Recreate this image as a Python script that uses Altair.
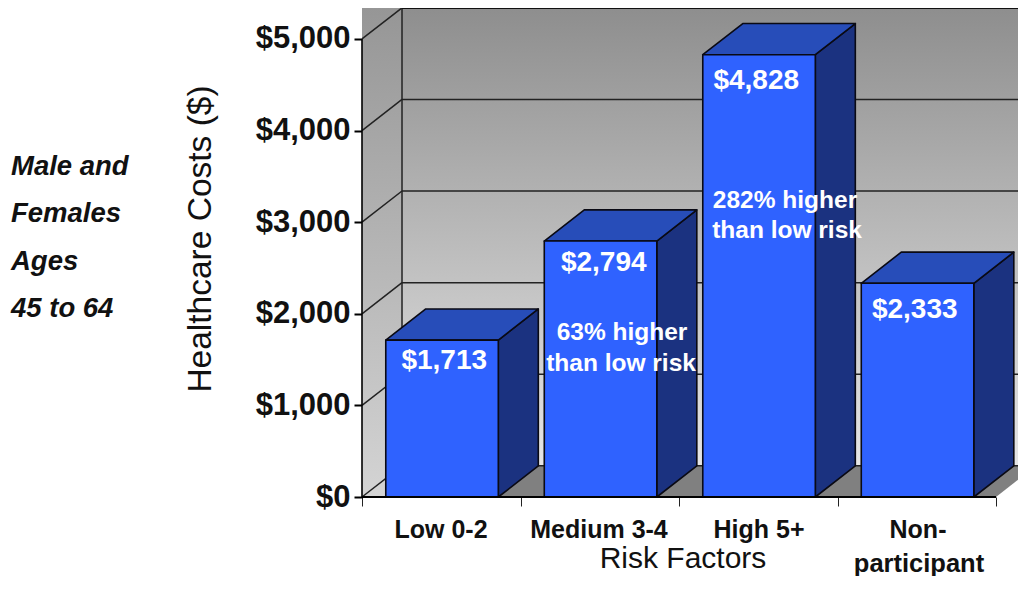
import altair as alt
import pandas as pd

# ---- data ----
categories = ["Low 0-2", "Medium 3-4", "High 5+", "Non-\nparticipant"]
costs = [1713, 2794, 4828, 2333]
cost_labels = ["$1,713", "$2,794", "$4,828", "$2,333"]
y_ticks = [0, 1000, 2000, 3000, 4000, 5000]
x_ticks = [0, 1, 2, 3, 4]

# ---- projection constants (data units) ----
BAR_W = 0.71      # category units
DX = 0.2524       # depth, category units
DY = 340.0        # depth, dollars
W, H = 656, 489
X_MAX = W / 158.5
Y_MAX = 5338.0
FONT = "Liberation Sans"

xs = alt.Scale(domain=[0, X_MAX], nice=False, zero=False)
ys = alt.Scale(domain=[0, Y_MAX], nice=False, zero=False)
x_axis = alt.Axis(values=x_ticks, labels=False, title=None, domain=False, grid=False,
                  tickColor="#222222", tickWidth=1, tickSize=9)
y_axis = alt.Axis(values=y_ticks, format="$,.0f", title=None, domain=False, grid=False,
                  tickColor="black", tickWidth=2, tickSize=8, labelPadding=4,
                  labelFont=FONT, labelFontSize=31, labelFontWeight="bold", labelColor="#111111")
X = lambda f: alt.X(f, type="quantitative", scale=xs, axis=x_axis)
Y = lambda f: alt.Y(f, type="quantitative", scale=ys, axis=y_axis)
X2 = lambda f: alt.X2(f)
Y2 = lambda f: alt.Y2(f)


def vgrad(c0, c1):
    return alt.Gradient(
        gradient="linear", x1=0, x2=0, y1=0, y2=1,
        stops=[alt.GradientStop(offset=0, color=c0),
               alt.GradientStop(offset=1, color=c1)],
    )


grid = pd.DataFrame({"v": y_ticks})
grid["top"] = grid["v"] + DY
grid["x0"] = 0.0
grid["xb"] = DX
grid["xe"] = X_MAX

layers = []

# walls
back = pd.DataFrame({"x": [DX], "x2": [X_MAX], "y": [DY], "y2": [Y_MAX]})
layers.append(alt.Chart(back).mark_rect(fill=vgrad("#8e8e8e", "#e6e6e6")).encode(
    x=X("x"), x2=X2("x2"), y=Y("y"), y2=Y2("y2")))
sidew = pd.DataFrame({"x": [0], "x2": [DX], "y": [0], "y2": [Y_MAX]})
layers.append(alt.Chart(sidew).mark_rect(fill=vgrad("#969696", "#d4d4d4")).encode(
    x=X("x"), x2=X2("x2"), y=Y("y"), y2=Y2("y2")))

# floor
floor = pd.DataFrame({
    "x": [DX, 4.0, 4.0 + DX],
    "y": [0, 0, DY],
    "y2": [DY, DY, DY],
})
layers.append(alt.Chart(floor).mark_area(color="#808080", clip=True, interpolate="linear").encode(
    x=X("x"), y=Y("y"), y2=Y2("y2")))

# wall grid lines
line_col = "#222222"
layers.append(alt.Chart(grid[grid["v"] < 5000]).mark_rule(color=line_col, strokeWidth=1.5, clip=True).encode(
    x=X("xb"), x2=X2("xe"), y=Y("top"), y2=Y2("top")))
layers.append(alt.Chart(grid).mark_rule(color=line_col, strokeWidth=1.5).encode(
    x=X("x0"), x2=X2("xb"), y=Y("v"), y2=Y2("top")))
# wall corner vertical and top edge
edge = pd.DataFrame({"x": [DX], "y": [DY], "y2": [Y_MAX]})
layers.append(alt.Chart(edge).mark_rule(color=line_col, strokeWidth=1.5).encode(
    x=X("x"), y=Y("y"), y2=Y2("y2")))
top = pd.DataFrame({"x": [DX], "x2": [X_MAX], "y": [Y_MAX]})
layers.append(alt.Chart(top).mark_rule(color="#111111", strokeWidth=2).encode(
    x=X("x"), x2=X2("x2"), y=Y("y")))

# bars
STROKE = dict(stroke="#0a0a14", strokeWidth=1.6, strokeJoin="round")
for i, (c, v) in enumerate(zip(categories, costs)):
    l = i + 0.5 - BAR_W / 2 + 0.005
    r = l + BAR_W
    front = pd.DataFrame({"l": [l], "r": [r], "v": [v], "b": [0]})
    side = pd.DataFrame({"x": [r, r + DX], "y": [0, DY], "y2": [v, v + DY]})
    top_f = pd.DataFrame({"x": [l, l + DX, r, r + DX],
                          "y": [v, v, v, v + DY],
                          "y2": [v, v + DY, v + DY, v + DY]})
    layers.append(alt.Chart(side).mark_area(color="#1b3280", interpolate="linear", **STROKE).encode(
        x=X("x"), y=Y("y"), y2=Y2("y2")))
    layers.append(alt.Chart(top_f).mark_area(color="#274db9", interpolate="linear", **STROKE).encode(
        x=X("x"), y=Y("y"), y2=Y2("y2")))
    layers.append(alt.Chart(front).mark_rect(color="#2f62ff", **STROKE).encode(
        x=X("l"), x2=X2("r"), y=Y("b"), y2=Y2("v")))

# axis lines
base = pd.DataFrame({"x": [0], "x2": [4.0], "y": [0]})
layers.append(alt.Chart(base).mark_rule(color="black", strokeWidth=2.2).encode(
    x=X("x"), x2=X2("x2"), y=Y("y")))
yline = pd.DataFrame({"x": [0], "y": [0], "y2": [5000]})
layers.append(alt.Chart(yline).mark_rule(color="black", strokeWidth=1.6).encode(
    x=X("x"), y=Y("y"), y2=Y2("y2")))

# value labels, tied to the bars
offsets = [(3, 21), (4, 22), (-2, 26), (-2, 27)]
for i, (lab, v) in enumerate(zip(cost_labels, costs)):
    d = pd.DataFrame({"x": [i + 0.5], "y": [v], "t": [lab]})
    layers.append(alt.Chart(d).mark_text(
        font=FONT, fontSize=28, fontWeight="bold", color="white",
        dx=offsets[i][0], dy=offsets[i][1]).encode(x=X("x"), y=Y("y"), text="t:N"))


def txt(s, px, py, size, weight="bold", style="normal", color="#111111", angle=0, align="center"):
    kw = dict(font=FONT, fontSize=size, fontWeight=weight, fontStyle=style,
              color=color, baseline="middle", align=align)
    if angle:
        kw["angle"] = angle
    return alt.Chart(pd.DataFrame({"t": [s]})).mark_text(**kw).encode(
        x=alt.value(px - 362), y=alt.value(py - 8), text="t:N")


# annotations
layers += [
    txt("63% higher", 622, 333, 24.5, color="white"),
    txt("than low risk", 621, 364, 24.5, color="white"),
    txt("282% higher", 785, 201, 24.5, color="white"),
    txt("than low risk", 787, 231, 24.5, color="white"),
]
# category labels
layers += [
    txt("Low 0-2", 441, 530, 25),
    txt("Medium 3-4", 599, 530, 25),
    txt("High 5+", 759, 530, 25),
    txt("Non-", 918, 530, 25),
    txt("participant", 919, 564, 25.5),
]
# titles
layers += [
    txt("Risk Factors", 683, 559, 30, weight="normal"),
    txt("Healthcare Costs ($)", 201, 239, 33.5, weight="normal", angle=270),
]
# side note
layers += [
    txt("Male and", 11, 167, 27.5, style="italic", align="left"),
    txt("Females", 11, 214, 27.5, style="italic", align="left"),
    txt("Ages", 11, 262, 27.5, style="italic", align="left"),
    txt("45 to 64", 11, 309, 27.5, style="italic", align="left"),
]

chart = alt.layer(*layers).properties(
    width=W, height=H,
    padding={"left": 354, "top": 0, "right": 0, "bottom": 79},
    autosize=alt.AutoSizeParams(type="none"),
    background="white",
).configure_view(stroke=None)

chart.save("out.html", embed_options={"renderer": "svg", "actions": False})
